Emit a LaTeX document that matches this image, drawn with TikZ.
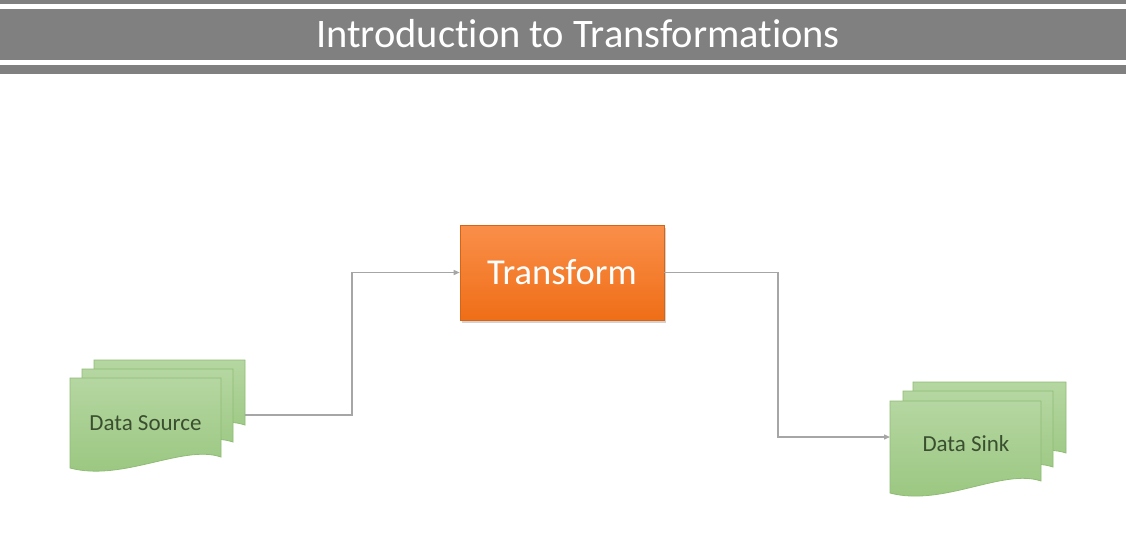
\documentclass[tikz,border=0pt]{standalone}
\usepackage{fontspec}
\setmainfont{Carlito}[Ligatures=NoCommon]
\usetikzlibrary{arrows.meta,shadows}
\definecolor{hdrgray}{HTML}{808080}
\definecolor{doctop}{HTML}{B5D6A1}
\definecolor{docbot}{HTML}{98C67E}
\definecolor{docedge}{HTML}{8FBC74}
\definecolor{doctext}{HTML}{3A4F30}
\definecolor{ortop}{HTML}{FA8F4A}
\definecolor{orbot}{HTML}{EF6E17}
\definecolor{conn}{HTML}{A6A6A6}
\tikzset{
  docfill/.style={top color=doctop, bottom color=docbot, draw=docedge, line width=0.8pt},
  doclabel/.style={font=\fontsize{23}{26}\selectfont, text=doctext},
  xfbox/.style={top color=ortop, bottom color=orbot, draw=orbot!90!black, line width=0.6pt,
    minimum width=204pt, minimum height=95pt, text=white, font=\fontsize{36.5}{40}\selectfont,
    drop shadow={opacity=0.35, shadow xshift=1.5pt, shadow yshift=-2.5pt}},
  connector/.style={draw=conn, line width=1.3pt, -{Triangle[length=6pt,width=5pt]}}
}
% page: x1, ytop, x2, yright-bottom, yleft-bottom
\newcommand\docpage[5]{%
  \path[docfill] (#1,#2) -- (#3,#2) -- (#3,#4)
    .. controls ({#3-0.25*(#3-#1)},{#4-13}) and ({#1+0.35*(#3-#1)},{#5+14}) .. (#1,#5) -- cycle;}
\begin{document}
\begin{tikzpicture}[x=1pt,y=-1pt]
\useasboundingbox (0,0) rectangle (1126,542);
\fill[white] (0,0) rectangle (1126,542);
% header
\fill[hdrgray] (0,0) rectangle (1126,4);
\fill[hdrgray] (0,9) rectangle (1126,60);
\fill[hdrgray] (0,65) rectangle (1126,74);
\node[text=white, font=\fontsize{40.5}{44}\selectfont] (title) at (578,34) {Introduction to Transformations};
% Data Source
\docpage{94}{360}{245}{425}{436}
\docpage{82}{369}{233}{442}{453}
\docpage{70}{378}{221}{457}{468}
\node[doclabel] (src) at (145.5,423) {Data Source};
\coordinate (srcout) at (245,415);
% Data Sink
\docpage{913}{382}{1066}{453}{465}
\docpage{903}{391}{1053}{467}{479}
\docpage{890}{401}{1041}{481}{493}
\node[doclabel] (sink) at (966,444) {Data Sink};
\coordinate (sinkin) at (890,437);
% Transform
\node[xfbox] (xf) at (562,272.5) {Transform};
% connectors
\draw[connector] (srcout) -- (352,415) |- (xf.west);
\draw[connector] (xf.east) -- (778,272.5) |- (sinkin);
\end{tikzpicture}
\end{document}
